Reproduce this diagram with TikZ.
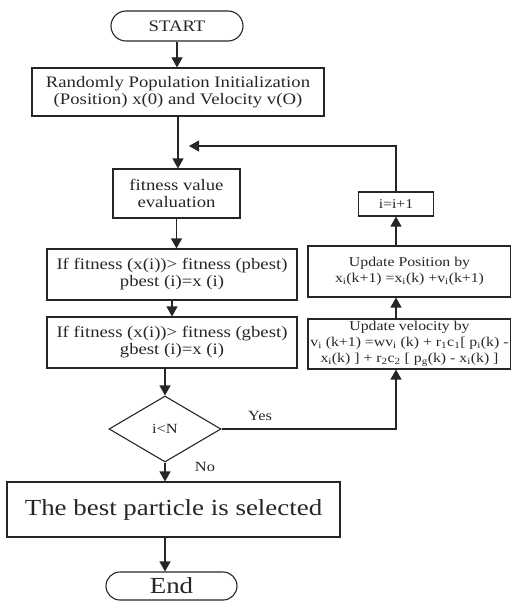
\documentclass[tikz,border=0pt]{standalone}
\usepackage{fontspec}
\setmainfont[FakeStretch=1.17]{Liberation Serif}
\usetikzlibrary{shapes.geometric,shapes.misc,arrows.meta}

\begin{document}
\begin{tikzpicture}[x=1pt, y=-1pt, >={Triangle[width=11pt,length=10pt]}, line width=1.1pt, color=black!85,
    box/.style={draw, rectangle, align=center, inner sep=0pt, font=\fontsize{16}{17}\selectfont},
    small/.style={font=\fontsize{13.5}{16}\selectfont},
    term/.style={draw, rounded rectangle, inner sep=0pt},
    decision/.style={draw, diamond, inner sep=0pt, minimum width=112pt, minimum height=66pt, font=\fontsize{14}{16}\selectfont},
    lbl/.style={font=\fontsize{14}{16}\selectfont}]
    \useasboundingbox (0,0) rectangle (511,602);
    % main column
    \node[term, minimum width=132pt, minimum height=30pt, font=\fontsize{16}{17}\selectfont] (start) at (177,26) {START};
    \node[box, minimum width=292pt, minimum height=48pt] (init) at (178,92) {Randomly Population Initialization\\(Position) x(0) and Velocity v(O)};
    \node[box, minimum width=127pt, minimum height=49pt] (fit) at (176.5,193.5) {fitness value\\evaluation};
    \node[box, minimum width=250pt, minimum height=51pt] (pbest) at (172,274.5) {If fitness (x(i))> fitness (pbest)\\pbest (i)=x (i)};
    \node[box, minimum width=250pt, minimum height=51pt] (gbest) at (172,342.5) {If fitness (x(i))> fitness (gbest)\\gbest (i)=x (i)};
    \node[decision] (dec) at (165,429) {i<N};
    \node[box, minimum width=333pt, minimum height=55pt, font=\fontsize{23}{25}\selectfont] (best) at (173.5,509.5) {The best particle is selected};
    \node[term, minimum width=131pt, minimum height=28pt, font=\fontsize{23}{25}\selectfont] (endn) at (171.5,586) {End};
    % update column
    \node[box, small, minimum width=75pt, minimum height=24pt] (inc) at (396,204) {i=i+1};
    \node[box, small, minimum width=203pt, minimum height=51pt] (pos) at (409.5,271.5) {Update Position by\\x\textsubscript{i}(k+1) =x\textsubscript{i}(k) +v\textsubscript{i}(k+1)};
    \node[box, small, minimum width=203pt, minimum height=50pt] (vel) at (409.5,344) {Update velocity by\\v\textsubscript{i} (k+1) =wv\textsubscript{i} (k) + r\textsubscript{1}c\textsubscript{1}[ p\textsubscript{i}(k) -\\x\textsubscript{i}(k) ] + r\textsubscript{2}c\textsubscript{2} [ p\textsubscript{g}(k) - x\textsubscript{i}(k) ]};
    \node[lbl] (yes) at (260,416) {Yes};
    \node[lbl] (no) at (205,467) {No};
    \coordinate (back) at (189,146);
    \coordinate (turn) at (396,429);
    % arrows
    \draw[->] (start.south) -- (start.south |- init.north);
    \draw[->] (init.south) -- (init.south |- fit.north);
    \draw[->] (fit.south) -- (fit.south |- pbest.north);
    \draw[->] (pbest.south) -- (pbest.south |- gbest.north);
    \draw[->] (gbest.south -| dec.north) -- (dec.north);
    \draw[->] (dec.south) -- (dec.south |- best.north);
    \draw[->] (dec.south |- best.south) -- (dec.south |- endn.north);
    \draw[->] (dec.east) -- (turn) -- (turn |- vel.south);
    \draw[->] (turn |- vel.north) -- (turn |- pos.south);
    \draw[->] (turn |- pos.north) -- (inc.south);
    \draw[->] (inc.north) |- (back);
\end{tikzpicture}
\end{document}
